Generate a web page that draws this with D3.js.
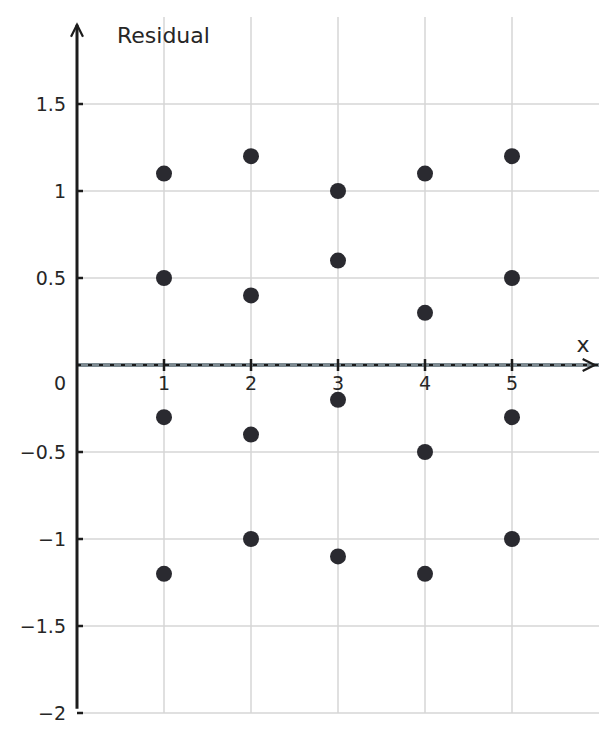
<!DOCTYPE html>
<html>
<head>
<meta charset="utf-8">
<script src="https://cdn.jsdelivr.net/npm/d3@7"></script>
<style>
  body { margin: 0; background: #fff; }
  text { font-family: "DejaVu Sans", sans-serif; fill: #262626; }
</style>
</head>
<body>
<svg></svg>
<script>
// residuals at each x value
var xValues = [1, 2, 3, 4, 5];
var residuals = [
  [1.1, 0.5, -0.3, -1.2],
  [1.2, 0.4, -0.4, -1.0],
  [1.0, 0.6, -0.2, -1.1],
  [1.1, 0.3, -0.5, -1.2],
  [1.2, 0.5, -0.3, -1.0]
];
var yTicks = [-2, -1.5, -1, -0.5, 0, 0.5, 1, 1.5];
var yTickLabels = ["\u22122", "\u22121.5", "\u22121", "\u22120.5", "0", "0.5", "1", "1.5"];

var W = 616, H = 741;
var svg = d3.select("svg").attr("width", W).attr("height", H);

var x = d3.scaleLinear().domain([0, 6]).range([77, 599]);
var y = d3.scaleLinear().domain([-2, 2]).range([713, 17]);

var points = [];
xValues.forEach(function(xv, i) {
  residuals[i].forEach(function(r) { points.push({x: xv, y: r}); });
});

// grid
svg.append("g").selectAll("line.hg")
  .data(yTicks.filter(function(d) { return d !== 0; }))
  .enter().append("line")
    .attr("x1", x(0)).attr("x2", x(6))
    .attr("y1", function(d) { return y(d); })
    .attr("y2", function(d) { return y(d); })
    .attr("stroke", "#d6d6d6").attr("stroke-width", 1.5);
svg.append("g").selectAll("line.vg")
  .data(xValues)
  .enter().append("line")
    .attr("x1", function(d) { return x(d); })
    .attr("x2", function(d) { return x(d); })
    .attr("y1", y(2)).attr("y2", y(-2))
    .attr("stroke", "#d6d6d6").attr("stroke-width", 1.5);

// zero line: grey band with dotted black overlay
svg.append("line")
  .attr("x1", x(0)).attr("x2", x(6))
  .attr("y1", y(0)).attr("y2", y(0))
  .attr("stroke", "#7d8a91").attr("stroke-width", 4);
svg.append("line")
  .attr("x1", x(0)).attr("x2", x(6))
  .attr("y1", y(0)).attr("y2", y(0))
  .attr("stroke", "#1a1a1a").attr("stroke-width", 2.2)
  .attr("stroke-dasharray", "4,7");

// x axis arrow
var ax = "#1c1c1c";
svg.append("path")
  .attr("d", "M" + (x(5.95) - 12) + "," + (y(0) - 6) + "L" + x(5.95) + "," + y(0) + "L" + (x(5.95) - 12) + "," + (y(0) + 6))
  .attr("fill", "none").attr("stroke", ax).attr("stroke-width", 2.2);

// x ticks
svg.append("g").selectAll("line")
  .data(xValues)
  .enter().append("line")
    .attr("x1", function(d) { return x(d); })
    .attr("x2", function(d) { return x(d); })
    .attr("y1", y(0) - 6).attr("y2", y(0) + 6)
    .attr("stroke", ax).attr("stroke-width", 2.5);
svg.append("g").selectAll("text")
  .data(xValues)
  .enter().append("text")
    .attr("x", function(d) { return x(d); })
    .attr("y", y(0) + 25)
    .attr("text-anchor", "middle")
    .attr("font-size", 19)
    .text(function(d) { return d; });

// y axis
svg.append("line")
  .attr("x1", x(0)).attr("x2", x(0))
  .attr("y1", y(1.955)).attr("y2", y(-1.975))
  .attr("stroke", ax).attr("stroke-width", 3);
svg.append("path")
  .attr("d", "M" + (x(0) - 6) + "," + (y(1.955) + 12) + "L" + x(0) + "," + y(1.955) + "L" + (x(0) + 6) + "," + (y(1.955) + 12))
  .attr("fill", "none").attr("stroke", ax).attr("stroke-width", 2.2);
svg.append("g").selectAll("line")
  .data(yTicks.filter(function(d) { return d !== 0; }))
  .enter().append("line")
    .attr("x1", x(0)).attr("x2", x(0) + 6)
    .attr("y1", function(d) { return y(d); })
    .attr("y2", function(d) { return y(d); })
    .attr("stroke", ax).attr("stroke-width", 2.5);
svg.append("g").selectAll("text")
  .data(yTicks)
  .enter().append("text")
    .attr("x", 66)
    .attr("y", function(d) { return d === 0 ? y(0) + 25 : y(d) + 7; })
    .attr("text-anchor", "end")
    .attr("font-size", 19)
    .text(function(d, i) { return yTickLabels[i]; });

// axis labels
svg.append("text").attr("x", 117).attr("y", 43)
  .attr("font-size", 22).text("Residual");
svg.append("text").attr("x", 583).attr("y", 352)
  .attr("text-anchor", "middle").attr("font-size", 22).text("x");

// points
svg.append("g").selectAll("circle")
  .data(points)
  .enter().append("circle")
    .attr("cx", function(d) { return x(d.x); })
    .attr("cy", function(d) { return y(d.y); })
    .attr("r", 8)
    .attr("fill", "#2a2a30");
</script>
</body>
</html>
